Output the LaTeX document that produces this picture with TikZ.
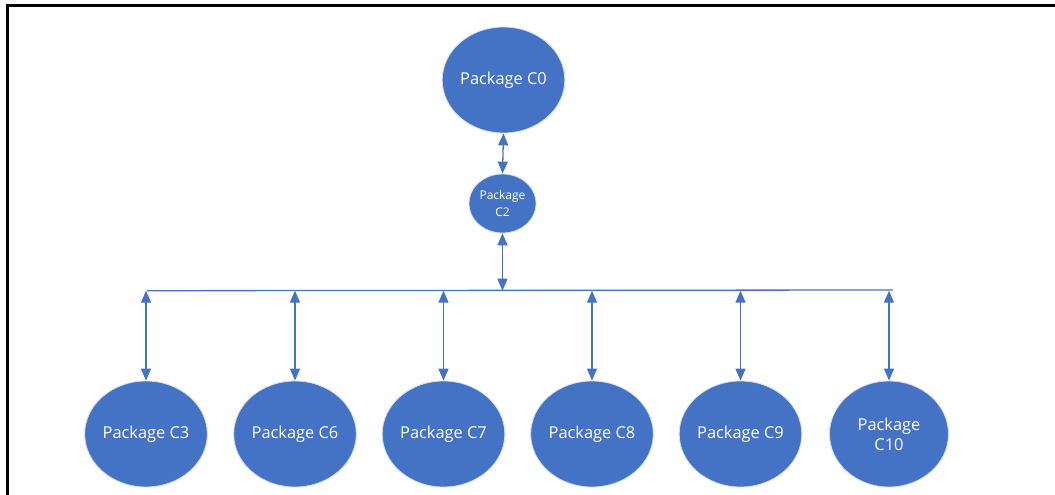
\documentclass[tikz,border=0pt]{standalone}
\usepackage{fontspec}
\setmainfont{Open Sans}
\usetikzlibrary{shapes.geometric,arrows.meta}
\definecolor{pkgblue}{HTML}{4472C4}
\definecolor{pkgedge}{HTML}{D6DEEE}
\tikzset{
  pkg/.style={ellipse, fill=pkgblue, draw=pkgedge, line width=0.8pt, inner sep=0pt,
    minimum width=119pt, minimum height=106pt, text=white, align=center,
    font=\fontsize{16.4}{20}\selectfont},
  pkgsmall/.style={pkg, minimum width=67pt, minimum height=59pt,
    font=\fontsize{12}{17}\selectfont},
  link/.style={draw=pkgblue, line width=1.3pt, {Triangle[length=12pt,width=10pt]}-{Triangle[length=12pt,width=10pt]}},
  bus/.style={draw=pkgblue, line width=1.3pt},
  frame/.style={draw=black, line width=3pt}
}
\begin{document}
\begin{tikzpicture}[x=1pt,y=-1pt]
\useasboundingbox (0,0) rectangle (1055,495);
\draw[frame] (7,500) -- (7,6) -- (1060,6);
\node[pkg] (c0) at (503.5,80) {Package C0};
\node[pkgsmall] (c2) at (502.5,203.5) {Package\\C2};
\node[pkg] (c3) at (146,434) {Package C3};
\node[pkg] (c6) at (295,434) {Package C6};
\node[pkg] (c7) at (443.5,434) {Package C7};
\node[pkg] (c8) at (592,434) {Package C8};
\node[pkg] (c9) at (740.5,434) {Package C9};
\node[pkg] (c10) at (889,434) {Package\\C10};
\coordinate (busL) at (147,290.7);
\coordinate (busR) at (893,290);
\draw[bus] (busL) -- (busR);
\draw[link] (c0.south) -- (c2.north);
\draw[link] (c2.south) -- (c2.south |- busL);
\foreach \n in {c3,c6,c7,c8,c9,c10}{
  \draw[link] (\n.north |- busL) -- (\n.north);
}
\end{tikzpicture}
\end{document}
